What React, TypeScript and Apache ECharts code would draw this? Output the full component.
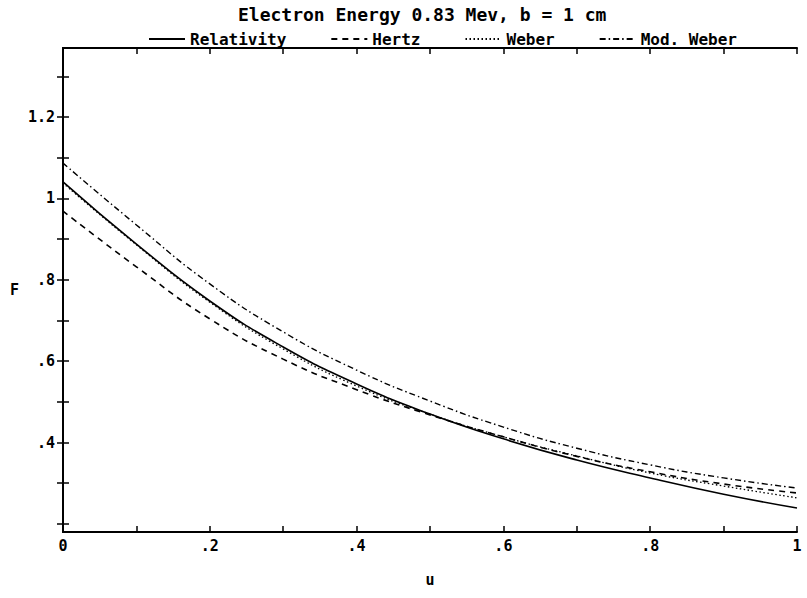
import React, { useEffect, useRef } from "react";
import * as echarts from "echarts";

const uValues = [0, 0.1, 0.2, 0.3, 0.4, 0.5, 0.6, 0.7, 0.8, 0.9, 1];
const relativity = [1.041, 0.888, 0.748, 0.635, 0.544, 0.47, 0.409, 0.357, 0.313, 0.273, 0.239];
const hertz = [0.969, 0.832, 0.704, 0.605, 0.53, 0.468, 0.414, 0.366, 0.328, 0.298, 0.276];
const weber = [1.038, 0.886, 0.745, 0.63, 0.539, 0.47, 0.414, 0.367, 0.325, 0.293, 0.264];
const modWeber = [1.087, 0.935, 0.79, 0.672, 0.578, 0.502, 0.438, 0.386, 0.345, 0.313, 0.288];

const xTickValues = [0, 0.1, 0.2, 0.3, 0.4, 0.5, 0.6, 0.7, 0.8, 0.9, 1];
const xLabelValues = [0, 0.2, 0.4, 0.6, 0.8, 1];
const yTickValues = [0.2, 0.3, 0.4, 0.5, 0.6, 0.7, 0.8, 0.9, 1, 1.1, 1.2, 1.3];
const yLabelValues = [0.4, 0.6, 0.8, 1, 1.2];

const FONT = "DejaVu Sans Mono";

function fmt(v: number): string {
  const r = Math.round(v * 10) / 10;
  if (r === 0) return "0";
  if (Number.isInteger(r)) return String(r);
  const s = r.toFixed(1);
  return s.startsWith("0") ? s.slice(1) : s;
}

export default function App() {
  const ref = useRef<HTMLDivElement>(null);
  useEffect(() => {
    if (!ref.current) return;
    const chart = echarts.init(ref.current, undefined, { renderer: "svg" });
    const toPairs = (arr: number[]) => arr.map((v, i) => [uValues[i], v]);
    const axisLine = { show: true, lineStyle: { color: "#000", width: 2 } };
    const tickStyle = { color: "#000", width: 1.5 };
    chart.setOption({
      animation: false,
      backgroundColor: "#fff",
      title: {
        text: "Electron Energy 0.83 Mev, b = 1 cm",
        left: 233,
        top: 0,
        textStyle: { fontFamily: FONT, fontWeight: "bold", fontSize: 18, color: "#000" },
      },
      legend: {
        left: 143,
        top: 26,
        itemWidth: 36,
        itemHeight: 12,
        itemGap: 44,
        itemStyle: { opacity: 0 },
        textStyle: { fontFamily: FONT, fontWeight: "bold", fontSize: 16, color: "#000" },
        data: ["Relativity", "Hertz", "Weber", "Mod. Weber"],
      },
      grid: { left: 63, right: 10, top: 48, bottom: 66, outerBoundsMode: "none" },
      xAxis: [
        {
          type: "value",
          min: 0,
          max: 1,
          position: "bottom",
          name: "u",
          nameLocation: "middle",
          nameGap: 40,
          nameTextStyle: { fontFamily: FONT, fontWeight: "bold", fontSize: 15, color: "#000" },
          axisLine,
          axisTick: { show: true, inside: true, length: 6, customValues: xTickValues, lineStyle: tickStyle },
          axisLabel: {
            customValues: xLabelValues,
            formatter: (v: number) => fmt(v),
            fontFamily: FONT,
            fontWeight: "bold",
            fontSize: 15,
            color: "#000",
            margin: 6,
          },
          splitLine: { show: false },
        },
        {
          type: "value",
          min: 0,
          max: 1,
          position: "top",
          axisLine,
          axisTick: { show: true, inside: true, length: 6, customValues: xTickValues, lineStyle: tickStyle },
          axisLabel: { show: false },
          splitLine: { show: false },
        },
      ],
      yAxis: [
        {
          type: "value",
          min: 0.18,
          max: 1.37,
          position: "left",
          name: "F",
          nameLocation: "middle",
          nameRotate: 0,
          nameGap: 44,
          nameTextStyle: { fontFamily: FONT, fontWeight: "bold", fontSize: 15, color: "#000" },
          axisLine,
          axisTick: { show: true, inside: true, length: 6, customValues: yTickValues, lineStyle: tickStyle },
          axisLabel: {
            customValues: yLabelValues,
            formatter: (v: number) => fmt(v),
            fontFamily: FONT,
            fontWeight: "bold",
            fontSize: 15,
            color: "#000",
            margin: 8,
          },
          splitLine: { show: false },
        },
        {
          type: "value",
          min: 0.18,
          max: 1.37,
          position: "right",
          axisLine,
          axisTick: { show: true, inside: true, length: 6, customValues: yTickValues, lineStyle: tickStyle },
          axisLabel: { show: false },
          splitLine: { show: false },
        },
      ],
      series: [
        {
          name: "Relativity",
          type: "line",
          xAxisIndex: 0,
          yAxisIndex: 0,
          smooth: true,
          symbol: "none",
          data: toPairs(relativity),
          lineStyle: { color: "#000", width: 1.6, type: "solid" },
          itemStyle: { color: "#000" },
        },
        {
          name: "Hertz",
          type: "line",
          xAxisIndex: 0,
          yAxisIndex: 0,
          smooth: true,
          symbol: "none",
          data: toPairs(hertz),
          lineStyle: { color: "#000", width: 1.6, type: [6, 5] },
          itemStyle: { color: "#000" },
        },
        {
          name: "Weber",
          type: "line",
          xAxisIndex: 0,
          yAxisIndex: 0,
          smooth: true,
          symbol: "none",
          data: toPairs(weber),
          lineStyle: { color: "#000", width: 1.3, type: [1.5, 2.5] },
          itemStyle: { color: "#000" },
        },
        {
          name: "Mod. Weber",
          type: "line",
          xAxisIndex: 0,
          yAxisIndex: 0,
          smooth: true,
          symbol: "none",
          data: toPairs(modWeber),
          lineStyle: { color: "#000", width: 1.4, type: [6, 3, 1.5, 3] },
          itemStyle: { color: "#000" },
        },
      ],
    });
    return () => chart.dispose();
  }, []);
  return (
    <div
      ref={ref}
      style={{ position: "fixed", left: 0, top: 0, width: 807, height: 598, background: "#fff" }}
    />
  );
}
